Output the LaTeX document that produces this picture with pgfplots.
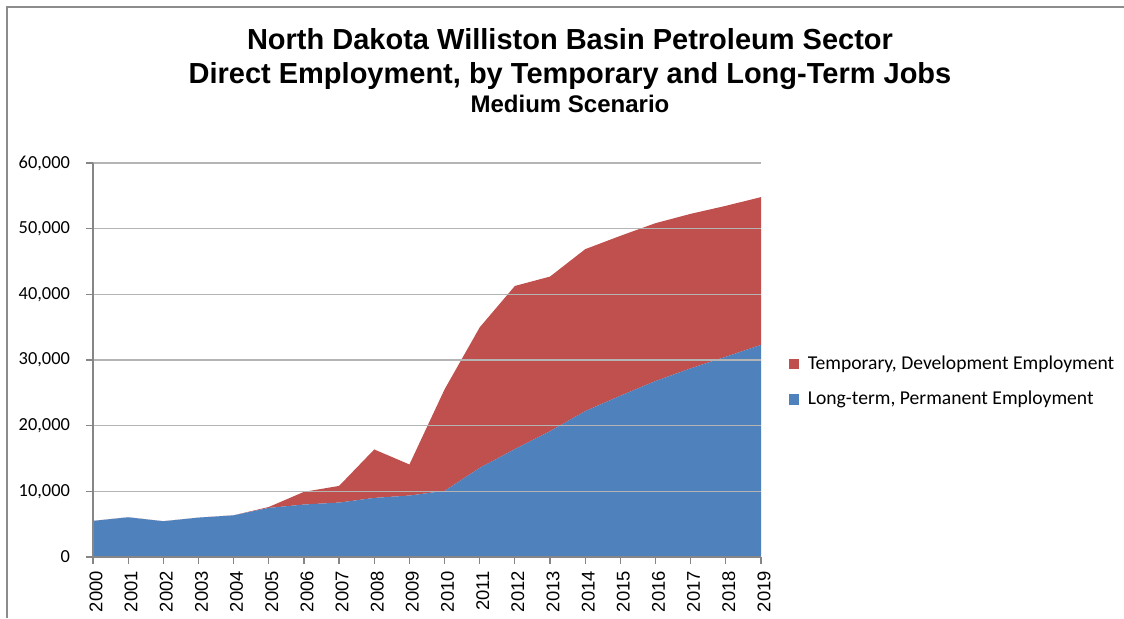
\documentclass[border=0pt]{standalone}
\usepackage{fontspec}
\setmainfont{Carlito}
\newfontfamily\arial{Liberation Sans}
\usepackage{pgfplots}
\pgfplotsset{compat=1.18}

\definecolor{xlblue}{HTML}{4F81BD}
\definecolor{xlred}{HTML}{C0504D}
\definecolor{gridgray}{HTML}{B4B4B4}
\definecolor{axisgray}{HTML}{868686}
\definecolor{framegray}{HTML}{8C8C8C}

\begin{document}
\begin{tikzpicture}
% page = 1124x618 px at 0.5pt per px
\path[use as bounding box] (0,0) rectangle (562pt,309pt);
\draw[framegray, line width=1pt] (3.5pt,0) -- (3.5pt,305.75pt) -- (562pt,305.75pt);

\begin{axis}[
  at={(46.5pt,30.5pt)}, anchor=south west,
  scale only axis,
  width=334pt, height=197pt,
  xmin=2000, xmax=2019,
  ymin=0, ymax=60000,
  xtick={2000,...,2019},
  ytick={0,10000,...,60000},
  scaled y ticks=false,
  axis lines*=left,
  axis line style={axisgray, line width=0.6pt},
  tick align=outside,
  major tick length=3.5pt,
  tick style={axisgray, line width=0.6pt},
  ymajorgrids,
  grid style={gridgray, line width=0.7pt},
  /pgf/number format/assume math mode=true,
  x tick label style={font=\arial\fontsize{9.2}{10}\selectfont, rotate=90, anchor=east,
    yshift=-1.5pt, /pgf/number format/.cd, 1000 sep={}},
  y tick label style={font=\fontsize{9.2}{10}\selectfont, xshift=-4.5pt,
    /pgf/number format/.cd, 1000 sep={,}},
  stack plots=y,
  area style,
  reverse legend,
  legend cell align=left,
  legend style={at={(1.042,0.445)}, anchor=west, draw=none, fill=none,
    font=\fontsize{9.8}{11}\selectfont, row sep=7pt, inner sep=0pt,
    nodes={inner sep=1.2pt}},
  legend image code/.code={\fill[#1] (0pt,-2.6pt) rectangle (5pt,2.6pt);},
  /tikz/every even column/.append style={column sep=0pt},
  /tikz/every odd column/.append style={column sep=3pt},
]
\addplot[draw=none, fill=xlblue] coordinates {
  (2000,5500) (2001,6050) (2002,5450) (2003,6000) (2004,6350)
  (2005,7480) (2006,7990) (2007,8290) (2008,9000) (2009,9360)
  (2010,10070) (2011,13580) (2012,16430) (2013,19170) (2014,22220)
  (2015,24560) (2016,26800) (2017,28730) (2018,30500) (2019,32290)
} \closedcycle;
\addlegendentry{Long-term, Permanent Employment}
\addplot[draw=none, fill=xlred] coordinates {
  (2000,0) (2001,0) (2002,0) (2003,0) (2004,0)
  (2005,140) (2006,1930) (2007,2540) (2008,7380) (2009,4730)
  (2010,15460) (2011,21400) (2012,24850) (2013,23540) (2014,24660)
  (2015,24350) (2016,24040) (2017,23530) (2018,22980) (2019,22520)
} \closedcycle;
\addlegendentry{Temporary, Development Employment}
\end{axis}

\begin{scope}[every node/.style={anchor=base, inner sep=0pt}]
\node[font=\arial\bfseries\fontsize{14.5}{16}\selectfont] at (285pt,284.3pt)
  {North Dakota Williston Basin Petroleum Sector};
\node[font=\arial\bfseries\fontsize{14.5}{16}\selectfont] at (285pt,267.3pt)
  {Direct Employment, by Temporary and Long-Term Jobs};
\node[font=\arial\bfseries\fontsize{12}{14}\selectfont] at (285pt,253pt)
  {Medium Scenario};
\end{scope}
\end{tikzpicture}
\end{document}
